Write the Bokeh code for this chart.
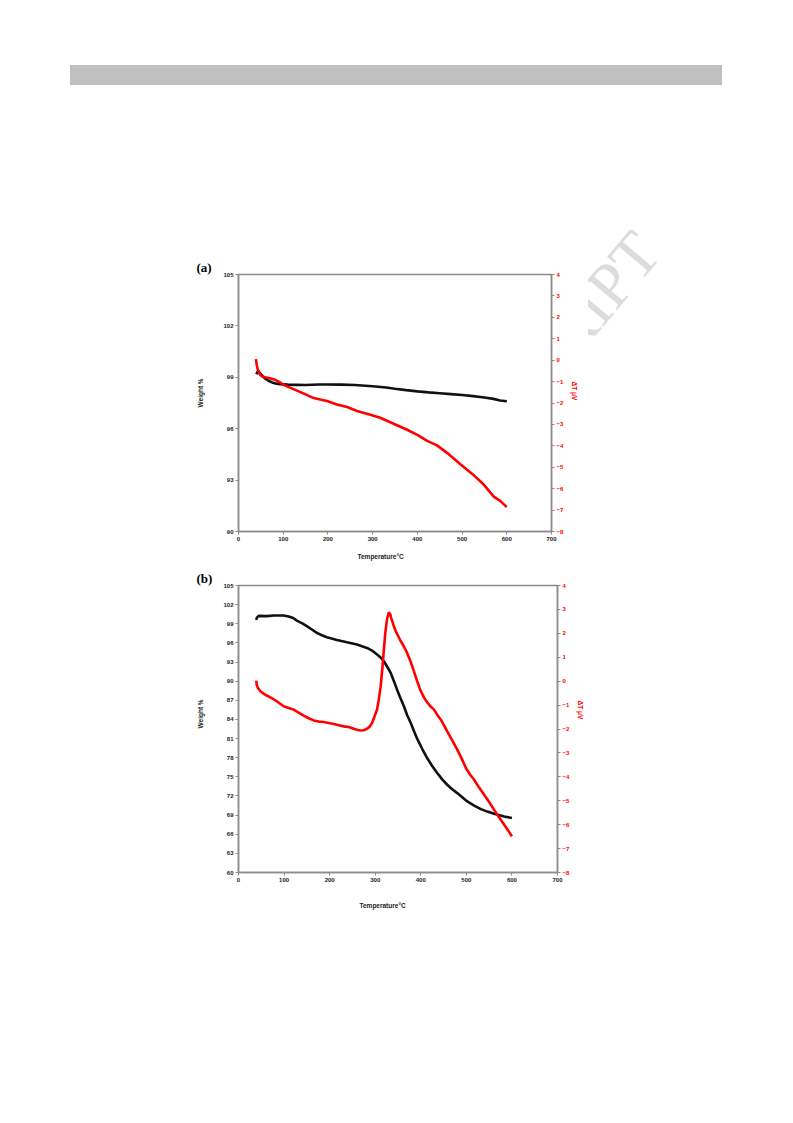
import math
from bokeh.plotting import figure
from bokeh.models import Range1d, LinearAxis, FixedTicker, Div, Title
from bokeh.layouts import column, row
from bokeh.embed import file_html
from bokeh.resources import INLINE

# ---------------- data ----------------
x_ticks = [0, 100, 200, 300, 400, 500, 600, 700]
dt_ticks = [-8, -7, -6, -5, -4, -3, -2, -1, 0, 1, 2, 3, 4]
wa_ticks = [90, 93, 96, 99, 102, 105]
wb_ticks = [60, 63, 66, 69, 72, 75, 78, 81, 84, 87, 90, 93, 96, 99, 102, 105]

# (a) weight %
a_w_T = [40, 42, 44, 47, 50, 55, 60, 67, 75, 85, 93, 110, 130, 150, 180, 200, 230, 260,
         300, 330, 350, 375, 400, 425, 450, 475, 500, 525, 550, 570, 585, 600]
a_w = [99.18, 99.3, 99.35, 99.28, 99.18, 99.04, 98.92, 98.8, 98.7, 98.63, 98.6, 98.57,
       98.56, 98.55, 98.58, 98.58, 98.57, 98.55, 98.48, 98.4, 98.33, 98.25, 98.18, 98.12,
       98.07, 98.02, 97.97, 97.9, 97.82, 97.74, 97.65, 97.6]
# (a) delta T
a_d_T = [39, 40, 41, 43, 46, 49, 53, 60, 70, 80, 90, 101, 115, 131, 150, 168, 185, 198,
         220, 243, 265, 295, 317, 347, 377, 400, 422, 444, 467, 497, 527, 549, 571, 586, 600]
a_d = [0.05, -0.1, -0.25, -0.42, -0.58, -0.7, -0.76, -0.8, -0.84, -0.9, -1.0, -1.15,
       -1.28, -1.42, -1.6, -1.77, -1.85, -1.91, -2.07, -2.19, -2.37, -2.55, -2.69, -2.97,
       -3.25, -3.49, -3.77, -3.98, -4.34, -4.87, -5.39, -5.82, -6.37, -6.58, -6.86]

# (b) weight %
b_w_T = [39, 40, 42, 45, 62, 77, 99, 110, 120, 128, 140, 150, 161, 172, 183, 194, 216, 238,
         260, 282, 295, 304, 312, 319, 326, 334, 341, 348, 355, 363, 370, 378, 385, 392,
         403, 414, 425, 436, 447, 458, 469, 480, 491, 502, 517, 532, 546, 561, 575, 583, 600]
b_w = [99.6, 99.9, 100.1, 100.24, 100.2, 100.29, 100.29, 100.15, 99.9, 99.5, 99.05, 98.62,
       98.1, 97.57, 97.2, 96.89, 96.47, 96.1, 95.74, 95.21, 94.7, 94.17, 93.7, 93.12, 92.3,
       91.3, 90.0, 88.67, 87.4, 86.06, 84.7, 83.44, 82.2, 80.98, 79.4, 77.95, 76.7, 75.6,
       74.6, 73.76, 73.05, 72.45, 71.8, 71.14, 70.5, 69.94, 69.55, 69.2, 68.95, 68.79, 68.53]
# (b) delta T
b_d_T = [39, 40, 42, 48, 55, 62, 72, 84, 99, 110, 121, 132, 143, 154, 165, 176, 187, 198,
         209, 220, 231, 242, 253, 260, 268, 275, 282, 288, 293, 298, 304, 308, 312, 316,
         319, 322, 326, 330, 333, 335, 340, 345, 350, 356, 363, 370, 378, 385, 392, 400,
         407, 414, 421, 429, 436, 444, 451, 458, 469, 480, 490, 499, 508, 517, 528, 539,
         550, 561, 572, 583, 592, 600]
b_d = [0.02, -0.15, -0.26, -0.42, -0.52, -0.6, -0.7, -0.84, -1.05, -1.12, -1.19, -1.32,
       -1.44, -1.55, -1.64, -1.69, -1.71, -1.75, -1.79, -1.84, -1.89, -1.92, -1.99, -2.03,
       -2.06, -2.05, -1.99, -1.9, -1.75, -1.5, -1.19, -0.75, -0.21, 0.6, 1.32, 2.0, 2.6,
       2.88, 2.8, 2.65, 2.35, 2.09, 1.9, 1.67, 1.45, 1.18, 0.8, 0.41, 0.0, -0.42, -0.68,
       -0.88, -1.05, -1.19, -1.4, -1.61, -1.85, -2.1, -2.48, -2.86, -3.25, -3.63, -3.9,
       -4.12, -4.45, -4.75, -5.05, -5.38, -5.7, -6.0, -6.25, -6.49]

X_TITLE = "Temperature°C"
W_TITLE = "Weight %"
D_TITLE = "ΔT μV"
WATERMARK = "ACCEPTED MANUSCRIPT"

AX_GRAY = "#8c8c8c"
RED = "#ff0000"
SANS = "Liberation Sans"


def style_axis(ax, ticks, label_color):
    ax.ticker = FixedTicker(ticks=ticks)
    ax.axis_line_color = AX_GRAY
    ax.axis_line_width = 1.5
    ax.major_tick_line_color = AX_GRAY
    ax.major_tick_in = 0
    ax.major_tick_out = 3
    ax.minor_tick_line_color = None
    ax.major_label_text_font = SANS
    ax.major_label_text_font_style = "bold"
    ax.major_label_text_font_size = "6px"
    ax.major_label_text_color = label_color
    ax.major_label_standoff = 2


def side_title(text, color, offset, standoff):
    return Title(text=text, align="left", offset=offset, standoff=standoff,
                 text_font=SANS, text_font_style="bold", text_font_size="6.5px",
                 text_color=color)


def make_chart(tag, fw, fh, mtop, mbot, mright, wticks, w_T, w, d_T, d, pos):
    p = figure(frame_width=fw, frame_height=fh, min_border_left=238,
               min_border_right=mright, min_border_top=mtop,
               min_border_bottom=mbot, x_range=Range1d(0, 700),
               y_range=Range1d(wticks[0], wticks[-1]),
               output_backend="svg", toolbar_location=None,
               x_axis_location=None, y_axis_location=None)
    p.extra_y_ranges = {"dt": Range1d(-8, 4)}
    p.xgrid.visible = False
    p.ygrid.visible = False
    p.outline_line_color = AX_GRAY
    p.outline_line_width = 1.5
    p.background_fill_color = "white"
    p.border_fill_color = "white"

    p.title.text = tag
    p.title.align = "left"
    p.title.offset = -42
    p.title.standoff = 0
    p.title.text_font = "Liberation Serif"
    p.title.text_font_style = "bold"
    p.title.text_font_size = "13px"
    p.title.text_color = "#000000"

    xa = LinearAxis()
    style_axis(xa, x_ticks, "#222222")
    p.add_layout(xa, "below")
    ya = LinearAxis()
    style_axis(ya, wticks, "#222222")
    p.add_layout(ya, "left")
    ra = LinearAxis(y_range_name="dt")
    style_axis(ra, dt_ticks, RED)
    p.add_layout(ra, "right")

    p.add_layout(side_title(X_TITLE, "#222222", pos["x_off"], pos["x_st"]), "below")
    p.add_layout(side_title(W_TITLE, "#222222", pos["w_off"], 34), "left")
    p.add_layout(side_title(D_TITLE, RED, pos["d_off"], 8), "right")

    p.line(w_T, w, line_color="#111111", line_width=2.6)
    p.line(d_T, d, line_color=RED, line_width=2.6, y_range_name="dt")
    return p


pa = make_chart("(a)", 313, 257, 44, 35, 37, wa_ticks, a_w_T, a_w, a_d_T, a_d,
                dict(x_off=119, x_st=15, w_off=124, d_off=107))
pb = make_chart("(b)", 319, 287, 18, 49, 31, wb_ticks, b_w_T, b_w, b_d_T, b_d,
                dict(x_off=121, x_st=31, w_off=144, d_off=115))

# top strip with gray header bar
top = Div(text='<div style="position:absolute;left:70px;top:65px;width:652px;'
               'height:20px;background:#c0c0c0;"></div>',
          width=793, height=230, margin=0, styles={"position": "relative"})

# faint diagonal watermark, visible only to the right of chart (a)
wm_html = ('<div style="position:relative;width:132px;height:336px;overflow:hidden;">'
           '<div style="position:absolute;left:-412px;top:553px;'
           "font-family:'Liberation Serif';font-size:64px;line-height:64px;"
           'white-space:nowrap;color:#dcdcdc;transform-origin:0 53.6px;'
           'transform:rotate(-50deg);">' + WATERMARK + '</div></div>')
wm = Div(text=wm_html, width=132, height=336, margin=0)

layout = column(top, row(pa, wm, spacing=0), pb, spacing=0)
open("out.html", "w").write(file_html(layout, INLINE))
